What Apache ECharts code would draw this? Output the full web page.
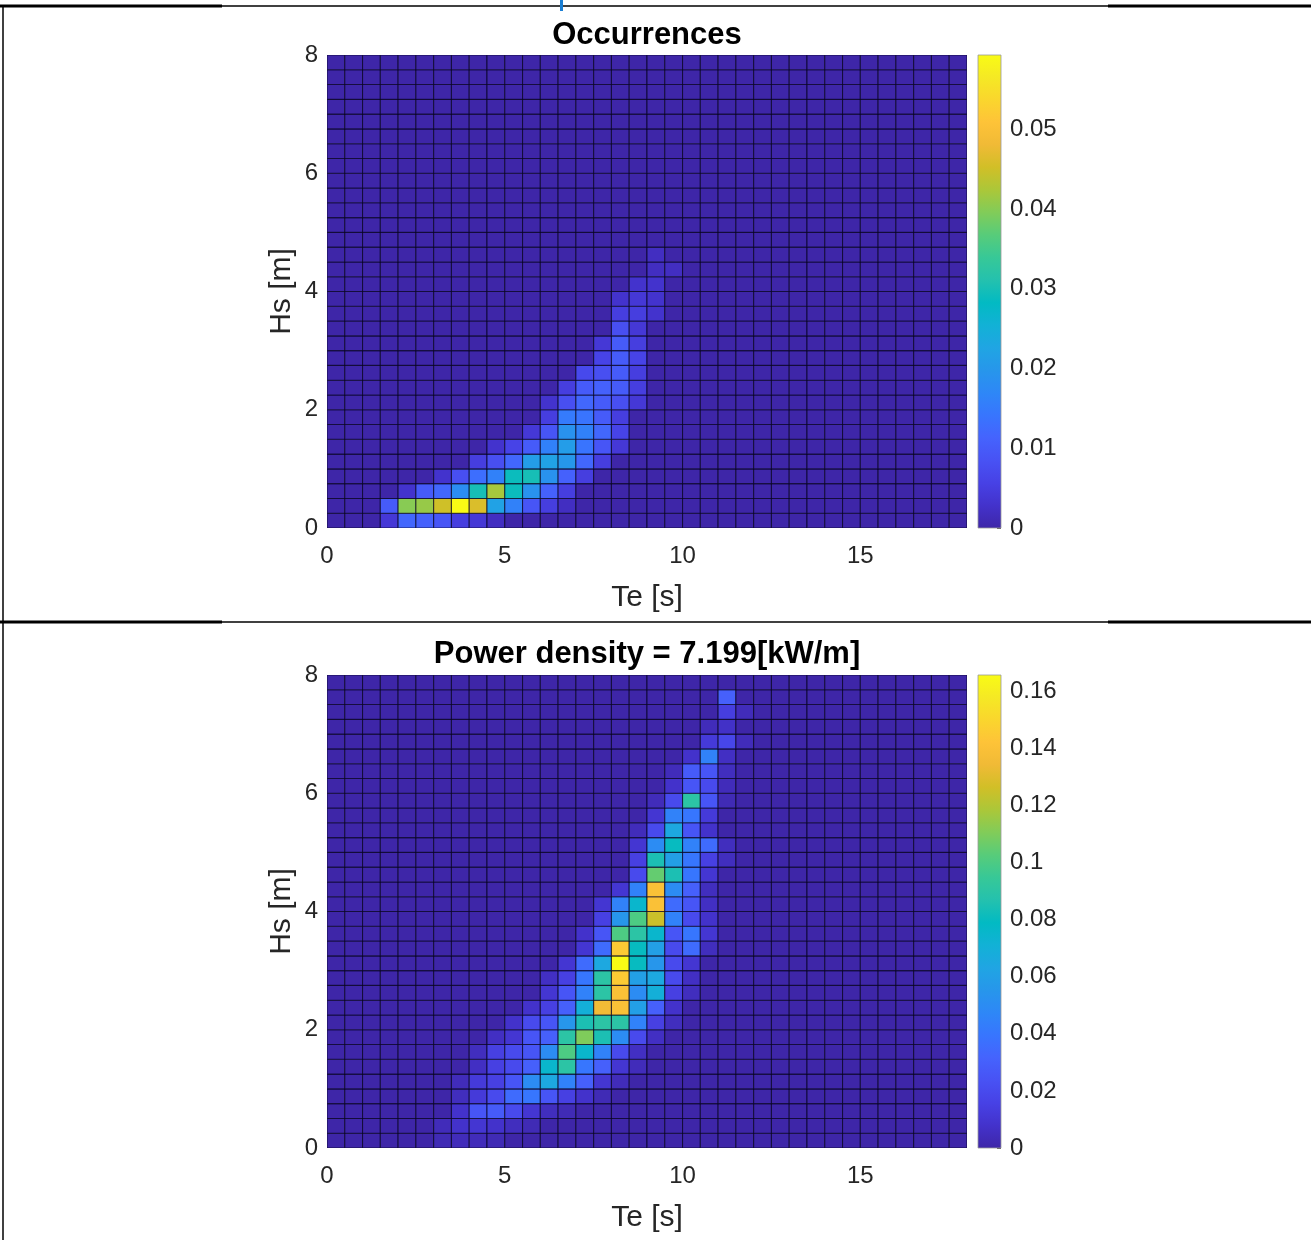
<!DOCTYPE html>
<html>
<head>
<meta charset="utf-8">
<script src="https://cdn.jsdelivr.net/npm/echarts@6/dist/echarts.min.js"></script>
<style>
html,body{margin:0;padding:0;background:#ffffff;}
#chart{width:1311px;height:1240px;}
</style>
</head>
<body>
<div id="chart"></div>
<script>
// ---------------- DATA ----------------
const TE_BIN = 0.5;          // Te bin width [s]
const HS_BIN = 0.25;         // Hs bin height [m]
const TE_MAX = 18;
const HS_MAX = 8;
const teTickStep = 5;
const hsTickStep = 2;

const occTitle = 'Occurrences';
const pdTitle = 'Power density = 7.199[kW/m]';
const occMax = 0.0593;
const pdMax = 0.1657;
const occTickStep = 0.01;
const pdTickStep = 0.02;

// Occurrences: for each Hs row (0.25 m bins, from 0 upward) the first Te column and the values from there
const occStartCol = [3, 3, 4, 6, 8, 9, 11, 12, 12, 13, 14, 15, 15, 16, 16, 16, 17, 18, 18];
const occValues = [
  [0.004, 0.012, 0.011, 0.009, 0.005, 0.004, 0.002],
  [0.010, 0.040, 0.041, 0.045, 0.0593, 0.046, 0.022, 0.016, 0.009, 0.005, 0.002],
  [0.003, 0.010, 0.012, 0.018, 0.030, 0.042, 0.029, 0.019, 0.011, 0.005],
  [0.003, 0.008, 0.013, 0.016, 0.029, 0.030, 0.019, 0.011, 0.005],
  [0.005, 0.008, 0.012, 0.021, 0.022, 0.020, 0.012, 0.005],
  [0.003, 0.006, 0.010, 0.016, 0.021, 0.014, 0.009, 0.004],
  [0.004, 0.009, 0.019, 0.016, 0.012, 0.006],
  [0.005, 0.015, 0.014, 0.010, 0.005],
  [0.003, 0.008, 0.012, 0.010, 0.008, 0.004],
  [0.005, 0.010, 0.011, 0.010, 0.005],
  [0.007, 0.008, 0.010, 0.005],
  [0.006, 0.010, 0.006],
  [0.004, 0.010, 0.005],
  [0.008, 0.004],
  [0.005, 0.005, 0.003],
  [0.003, 0.004, 0.003],
  [0.003, 0.003],
  [0.002, 0.002],
  [0.002]
];

// Power density: same layout
const pdStartCol = [6, 6, 7, 7, 7, 8, 8, 9, 10, 11, 12, 12, 13, 14, 14, 15, 15, 16, 17, 17, 17, 17, 18, 18, 19, 19, 20, 21, 21, 22, 22];
const pdValues = [
  [0.003, 0.004, 0.004, 0.003],
  [0.004, 0.008, 0.010, 0.008, 0.005, 0.003],
  [0.008, 0.025, 0.028, 0.020, 0.010, 0.005, 0.003],
  [0.005, 0.012, 0.020, 0.035, 0.040, 0.025, 0.015, 0.008, 0.003],
  [0.004, 0.012, 0.015, 0.025, 0.050, 0.065, 0.045, 0.030, 0.010, 0.004],
  [0.006, 0.015, 0.020, 0.030, 0.075, 0.090, 0.040, 0.030, 0.010, 0.004],
  [0.005, 0.015, 0.020, 0.025, 0.050, 0.100, 0.075, 0.045, 0.020, 0.006],
  [0.006, 0.010, 0.025, 0.030, 0.090, 0.110, 0.085, 0.050, 0.020, 0.006],
  [0.008, 0.020, 0.025, 0.055, 0.085, 0.090, 0.090, 0.045, 0.015, 0.005],
  [0.008, 0.015, 0.030, 0.070, 0.135, 0.140, 0.060, 0.030, 0.008],
  [0.010, 0.025, 0.045, 0.090, 0.140, 0.050, 0.070, 0.015, 0.005],
  [0.006, 0.015, 0.040, 0.090, 0.145, 0.060, 0.065, 0.020, 0.006],
  [0.010, 0.035, 0.065, 0.1657, 0.080, 0.055, 0.020, 0.010],
  [0.010, 0.035, 0.145, 0.080, 0.060, 0.020, 0.035, 0.005],
  [0.008, 0.025, 0.100, 0.090, 0.075, 0.025, 0.040, 0.010],
  [0.015, 0.055, 0.100, 0.125, 0.045, 0.020, 0.008],
  [0.010, 0.045, 0.075, 0.140, 0.035, 0.025, 0.006],
  [0.010, 0.045, 0.140, 0.050, 0.030, 0.005],
  [0.020, 0.105, 0.085, 0.040, 0.010],
  [0.015, 0.085, 0.060, 0.040, 0.015, 0.005],
  [0.010, 0.050, 0.080, 0.045, 0.035, 0.005],
  [0.004, 0.020, 0.065, 0.025, 0.008],
  [0.010, 0.045, 0.040, 0.012],
  [0.004, 0.020, 0.090, 0.025, 0.003],
  [0.008, 0.025, 0.020, 0.004],
  [0.004, 0.028, 0.025, 0.005],
  [0.008, 0.045, 0.006],
  [0.012, 0.018, 0.004],
  [0.004, 0.007],
  [0.014, 0.004],
  [0.030]
];

// MATLAB parula colormap (evenly spaced samples)
const parula = ['#3e26a8','#4332cb','#4741e5','#4852f4','#4563fd','#3875fe','#2e87f7','#2796eb',
  '#20a5e3','#12b1d6','#02bac3','#24c1ae','#37c897','#57cc7a','#81cc59','#abc739','#d1bf27',
  '#f0ba36','#fec338','#fad62d','#f5e924','#f9fb15'];

// ---------------- BUILD ----------------
function buildCells(startCol, values) {
  const nRows = Math.round(HS_MAX / HS_BIN);
  const nCols = Math.round(TE_MAX / TE_BIN);
  const out = [];
  for (let r = 0; r < nRows; r++) {
    for (let c = 0; c < nCols; c++) {
      let v = 0;
      if (r < values.length) {
        const k = c - startCol[r];
        if (k >= 0 && k < values[r].length) v = values[r][k];
      }
      out.push([c * TE_BIN, r * HS_BIN, v]);
    }
  }
  return out;
}

const FONT = "'Liberation Sans', Arial, Helvetica, sans-serif";
const TXT = '#262626';

function cellRender(params, api) {
  const x0 = api.value(0), y0 = api.value(1);
  const p0 = api.coord([x0, y0]);
  const p1 = api.coord([x0 + TE_BIN, y0 + HS_BIN]);
  return {
    type: 'rect',
    shape: { x: p0[0], y: p1[1], width: p1[0] - p0[0], height: p0[1] - p1[1] },
    style: { fill: api.visual('color'), stroke: 'rgba(5,0,30,0.68)', lineWidth: 1.1 }
  };
}

function barRender(max) {
  return function (params, api) {
    const p0 = api.coord([0, 0]);
    const p1 = api.coord([1, max]);
    const stops = parula.map((c, i) => ({ offset: i / (parula.length - 1), color: c }));
    return {
      type: 'rect',
      shape: { x: p0[0], y: p1[1], width: p1[0] - p0[0], height: p0[1] - p1[1] },
      style: { fill: new echarts.graphic.LinearGradient(0, 1, 0, 0, stops), stroke: '#9a9a9a', lineWidth: 0.8 }
    };
  };
}

function tickFmt(step) {
  return function (v) {
    const k = v / step;
    if (Math.abs(k - Math.round(k)) > 1e-6) return '';
    return String(parseFloat(v.toFixed(4)));
  };
}

const PLOT_LEFT = 327, PLOT_W = 640, PLOT_H = 473;
const TOPS = [55, 675];
const BAR_LEFT = 978, BAR_W = 23;

const grids = [
  { left: PLOT_LEFT, top: TOPS[0], width: PLOT_W, height: PLOT_H },
  { left: PLOT_LEFT, top: TOPS[1], width: PLOT_W, height: PLOT_H },
  { left: BAR_LEFT, top: TOPS[0], width: BAR_W, height: PLOT_H },
  { left: BAR_LEFT, top: TOPS[1], width: BAR_W, height: PLOT_H }
];

function heatX(gi) {
  return {
    type: 'value', gridIndex: gi, min: 0, max: TE_MAX, interval: teTickStep,
    name: 'Te [s]', nameLocation: 'middle', nameGap: 55,
    nameTextStyle: { fontSize: 30, color: TXT, fontFamily: FONT },
    axisLine: { show: false, onZero: false }, axisTick: { show: false }, splitLine: { show: false },
    axisLabel: { fontSize: 24, color: TXT, fontFamily: FONT, margin: 16, formatter: tickFmt(teTickStep) }
  };
}
function heatY(gi) {
  return {
    type: 'value', gridIndex: gi, min: 0, max: HS_MAX, interval: hsTickStep,
    name: 'Hs [m]', nameLocation: 'middle', nameGap: 30,
    nameTextStyle: { fontSize: 30, color: TXT, fontFamily: FONT },
    axisLine: { show: false, onZero: false }, axisTick: { show: false }, splitLine: { show: false },
    axisLabel: { fontSize: 24, color: TXT, fontFamily: FONT, margin: 9, lineHeight: 28, verticalAlign: 'middle', formatter: tickFmt(hsTickStep) }
  };
}
function barX(gi) {
  return { type: 'value', gridIndex: gi, min: 0, max: 1, show: false };
}
function barY(gi, max, step) {
  return {
    type: 'value', gridIndex: gi, min: 0, max: max, interval: step, position: 'right',
    axisLine: { show: false, onZero: false }, splitLine: { show: false },
    axisTick: { show: true, inside: true, length: 4, lineStyle: { color: '#555', width: 1 } },
    axisLabel: { fontSize: 24, color: TXT, fontFamily: FONT, margin: 9, formatter: tickFmt(step) }
  };
}

const option = {
  backgroundColor: '#ffffff',
  animation: false,
  title: [
    { text: occTitle, left: PLOT_LEFT + PLOT_W / 2, top: 20, textAlign: 'center', padding: 0,
      textStyle: { fontSize: 31, fontWeight: 'bold', color: '#000', fontFamily: FONT } },
    { text: pdTitle, left: PLOT_LEFT + PLOT_W / 2, top: 639, textAlign: 'center', padding: 0,
      textStyle: { fontSize: 31, fontWeight: 'bold', color: '#000', fontFamily: FONT } }
  ],
  grid: grids,
  xAxis: [heatX(0), heatX(1), barX(2), barX(3)],
  yAxis: [heatY(0), heatY(1), barY(2, occMax, occTickStep), barY(3, pdMax, pdTickStep)],
  visualMap: [
    { type: 'continuous', show: false, min: 0, max: occMax, dimension: 2, seriesIndex: 0, inRange: { color: parula } },
    { type: 'continuous', show: false, min: 0, max: pdMax, dimension: 2, seriesIndex: 1, inRange: { color: parula } }
  ],
  series: [
    { type: 'custom', xAxisIndex: 0, yAxisIndex: 0, renderItem: cellRender, data: buildCells(occStartCol, occValues), clip: true },
    { type: 'custom', xAxisIndex: 1, yAxisIndex: 1, renderItem: cellRender, data: buildCells(pdStartCol, pdValues), clip: true },
    { type: 'custom', xAxisIndex: 2, yAxisIndex: 2, renderItem: barRender(occMax), data: [[0, 0]] },
    { type: 'custom', xAxisIndex: 3, yAxisIndex: 3, renderItem: barRender(pdMax), data: [[0, 0]] }
  ],
  graphic: [
    // document table borders
    { type: 'line', shape: { x1: 0, y1: 6, x2: 222, y2: 6 }, style: { stroke: '#000', lineWidth: 3 } },
    { type: 'line', shape: { x1: 222, y1: 6, x2: 1108, y2: 6 }, style: { stroke: '#000', lineWidth: 1.5 } },
    { type: 'line', shape: { x1: 1108, y1: 6, x2: 1311, y2: 6 }, style: { stroke: '#000', lineWidth: 3 } },
    { type: 'line', shape: { x1: 0, y1: 622, x2: 222, y2: 622 }, style: { stroke: '#000', lineWidth: 3 } },
    { type: 'line', shape: { x1: 222, y1: 622, x2: 1108, y2: 622 }, style: { stroke: '#000', lineWidth: 1.5 } },
    { type: 'line', shape: { x1: 1108, y1: 622, x2: 1311, y2: 622 }, style: { stroke: '#000', lineWidth: 3 } },
    { type: 'line', shape: { x1: 3, y1: 5, x2: 3, y2: 1240 }, style: { stroke: '#000', lineWidth: 1.5 } },
    { type: 'rect', shape: { x: 560, y: 0, width: 3, height: 11 }, style: { fill: '#1a7fd4' } }
  ]
};

const chart = echarts.init(document.getElementById('chart'), null, { renderer: 'canvas' });
chart.setOption(option);
</script>
</body>
</html>
